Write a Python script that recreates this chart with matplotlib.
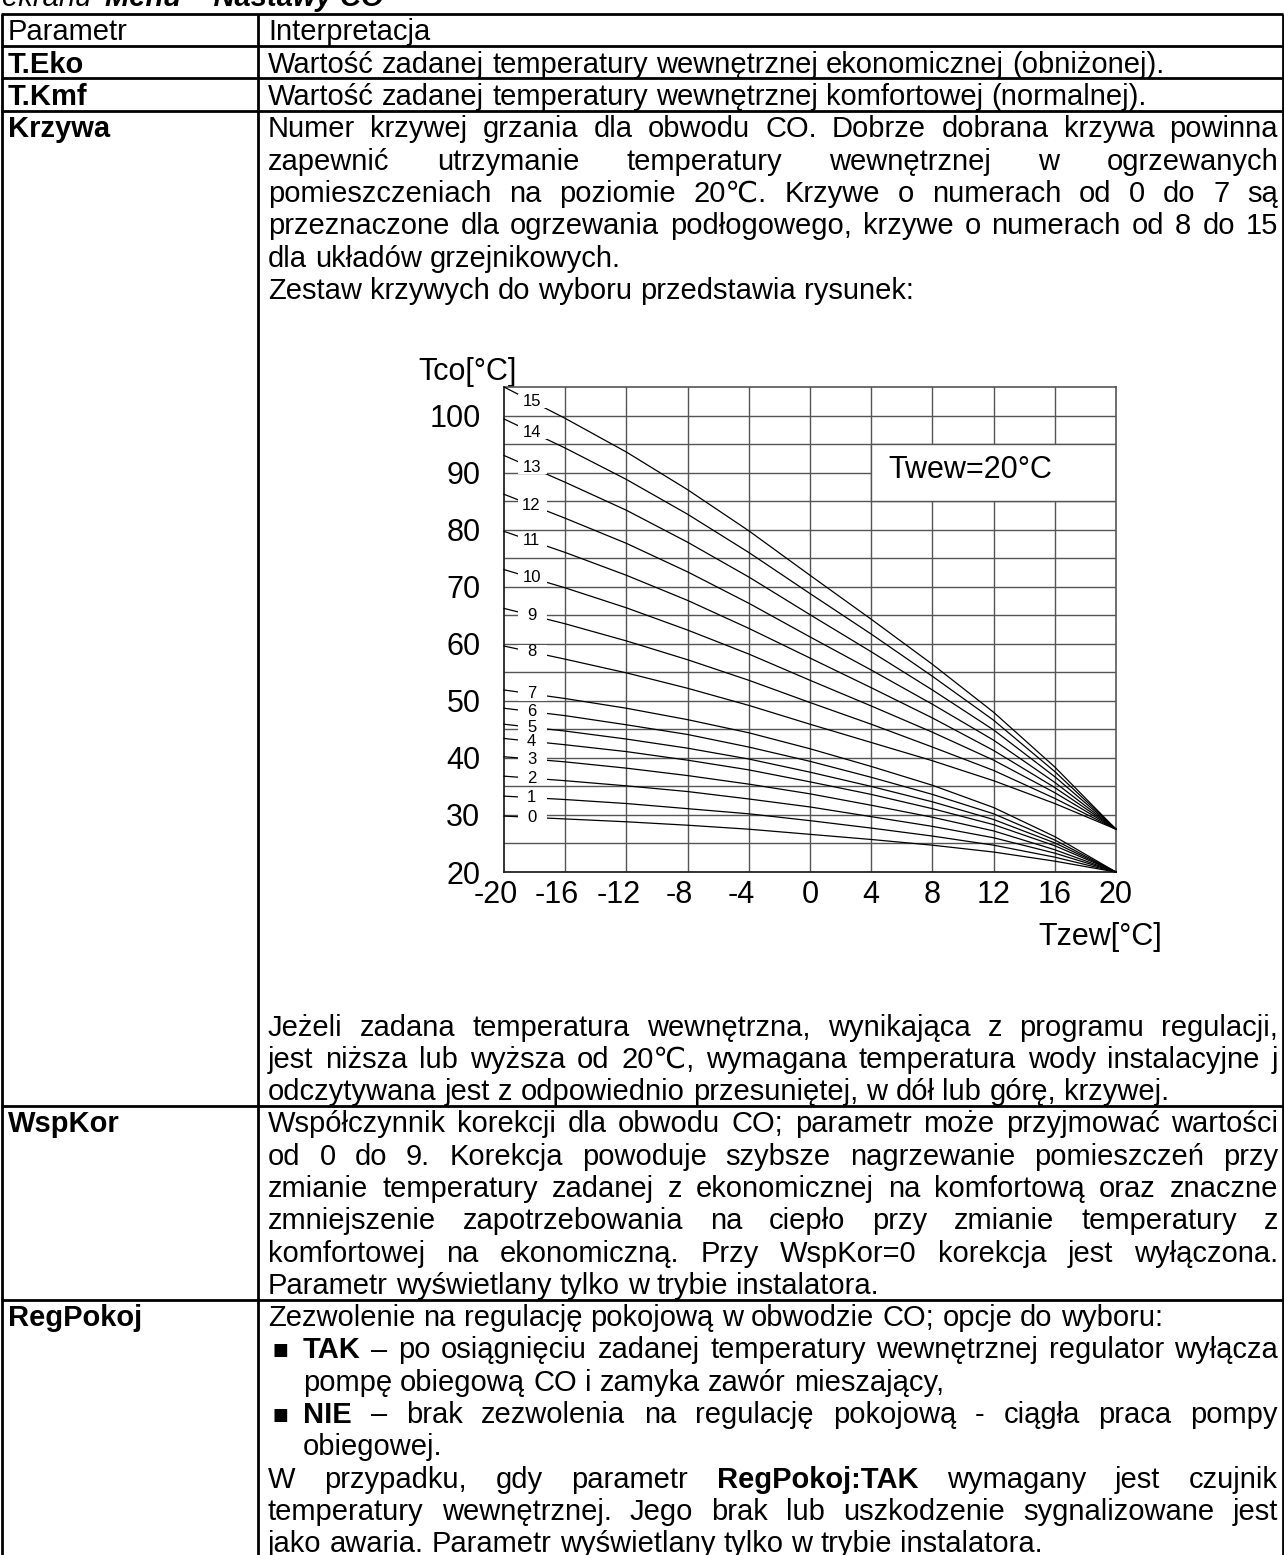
import numpy as np
import matplotlib
matplotlib.use("Agg")
import matplotlib.pyplot as plt
from matplotlib.patches import Rectangle
from matplotlib.transforms import ScaledTranslation

plt.rcParams["font.family"] = ["Liberation Sans", "DejaVu Sans"]

# ----------------------------------------------------------------------
# Data (Tzew -> Tco for curves 0..15)
# ----------------------------------------------------------------------
t_outside = [-20, -16, -12, -8, -4, 0, 4, 8, 12, 16, 20]

k0 = [29.8, 29.3, 28.8, 28.2, 27.5, 26.6, 25.7, 24.7, 23.5, 21.9, 20.0]
k1 = [33.3, 32.7, 32.0, 31.1, 30.2, 29.0, 27.7, 26.3, 24.7, 22.6, 20.0]
k2 = [36.8, 36.0, 35.1, 34.1, 32.8, 31.4, 29.7, 28.0, 26.0, 23.3, 20.0]
k3 = [40.2, 39.3, 38.2, 36.9, 35.4, 33.7, 31.7, 29.6, 27.2, 23.9, 20.0]
k4 = [43.4, 42.3, 41.1, 39.6, 37.9, 35.8, 33.6, 31.1, 28.3, 24.6, 20.0]
k5 = [45.9, 44.7, 43.3, 41.7, 39.8, 37.5, 35.0, 32.3, 29.2, 25.1, 20.0]
k6 = [48.7, 47.4, 45.8, 44.1, 41.9, 39.4, 36.6, 33.6, 30.2, 25.6, 20.0]
k7 = [51.9, 50.4, 48.7, 46.7, 44.4, 41.6, 38.5, 35.2, 31.3, 26.2, 20.0]
k8 = [59.6, 57.3, 54.9, 52.2, 49.2, 45.9, 42.7, 39.5, 36.0, 32.0, 27.5]
k9 = [66.2, 63.5, 60.5, 57.2, 53.6, 49.7, 45.9, 41.9, 37.8, 32.9, 27.5]
k10 = [73.0, 69.8, 66.3, 62.4, 58.2, 53.6, 49.1, 44.5, 39.6, 33.9, 27.5]
k11 = [79.7, 76.0, 72.0, 67.6, 62.7, 57.5, 52.3, 47.0, 41.3, 34.8, 27.5]
k12 = [86.2, 82.0, 77.6, 72.6, 67.1, 61.2, 55.4, 49.4, 43.1, 35.7, 27.5]
k13 = [93.0, 88.3, 83.4, 77.8, 71.7, 65.1, 58.6, 51.9, 44.9, 36.7, 27.5]
k14 = [99.4, 94.3, 88.8, 82.7, 76.0, 68.8, 61.7, 54.3, 46.6, 37.6, 27.5]
k15 = [105.0, 99.5, 93.6, 87.0, 79.8, 72.0, 64.3, 56.4, 48.0, 38.4, 27.5]

curves = [k0, k1, k2, k3, k4, k5, k6, k7, k8, k9, k10, k11, k12, k13, k14, k15]
curve_names = [str(i) for i in range(16)]

x_ticks = [-20, -16, -12, -8, -4, 0, 4, 8, 12, 16, 20]
y_ticks = [20, 30, 40, 50, 60, 70, 80, 90, 100]

# ----------------------------------------------------------------------
# Table text (one entry per printed line; "*" marks a bold word,
# J = justified, L = left aligned, B = bullet, I = indented)
# ----------------------------------------------------------------------
krzywa_lines = [
    ("J", "Numer krzywej grzania dla obwodu CO. Dobrze dobrana krzywa powinna"),
    ("J", "zapewnić utrzymanie temperatury wewnętrznej w ogrzewanych"),
    ("J", "pomieszczeniach na poziomie 20℃. Krzywe o numerach od 0 do 7 są"),
    ("J", "przeznaczone dla ogrzewania podłogowego, krzywe o numerach od 8 do 15"),
    ("L", "dla układów grzejnikowych."),
    ("L", "Zestaw krzywych do wyboru przedstawia rysunek:"),
]
jezeli_lines = [
    ("J", "Jeżeli zadana temperatura wewnętrzna, wynikająca z programu regulacji,"),
    ("J", "jest niższa lub wyższa od 20℃, wymagana temperatura wody instalacyjne j"),
    ("L", "odczytywana jest z odpowiednio przesuniętej, w dół lub górę, krzywej."),
]
wspkor_lines = [
    ("J", "Współczynnik korekcji dla obwodu CO; parametr może przyjmować wartości"),
    ("J", "od 0 do 9. Korekcja powoduje szybsze nagrzewanie pomieszczeń przy"),
    ("J", "zmianie temperatury zadanej z ekonomicznej na komfortową oraz znaczne"),
    ("J", "zmniejszenie zapotrzebowania na ciepło przy zmianie temperatury z"),
    ("J", "komfortowej na ekonomiczną. Przy WspKor=0 korekcja jest wyłączona."),
    ("L", "Parametr wyświetlany tylko w trybie instalatora."),
]
regpokoj_lines = [
    ("L", "Zezwolenie na regulację pokojową w obwodzie CO; opcje do wyboru:"),
    ("BJ", "*TAK – po osiągnięciu zadanej temperatury wewnętrznej regulator wyłącza"),
    ("IL", "pompę obiegową CO i zamyka zawór mieszający,"),
    ("BJ", "*NIE – brak zezwolenia na regulację pokojową - ciągła praca pompy"),
    ("IL", "obiegowej."),
    ("J", "W przypadku, gdy parametr *RegPokoj:TAK wymagany jest czujnik"),
    ("J", "temperatury wewnętrznej. Jego brak lub uszkodzenie sygnalizowane jest"),
    ("L", "jako awaria. Parametr wyświetlany tylko w trybie instalatora."),
]

# ----------------------------------------------------------------------
# Page layout (pixel units)
# ----------------------------------------------------------------------
W, H = 1284, 1555
FS = 21                      # body font size, pt
FS_PX = FS * 100 / 72
LINE = 32.3
Y_HDR = 30
Y_JEZ = 1025
COL_X = 258
X_LEFT = 8
X_TEXT = 268
X_INDENT = 303
X_RIGHT = 1278

fig = plt.figure(figsize=(W / 100, H / 100), dpi=100)
page = fig.add_axes([0, 0, 1, 1])
page.set_xlim(0, W)
page.set_ylim(H, 0)
page.axis("off")
renderer = fig.canvas.get_renderer()


def word_width(s, bold):
    t = page.text(0, 0, s, fontsize=FS, fontweight="bold" if bold else "normal")
    w = t.get_window_extent(renderer).width
    t.remove()
    return w


def baseline(yc):
    return yc + 0.36 * FS_PX


def put_line(yc, text, x0, justify):
    words = [(w.lstrip("*"), w.startswith("*")) for w in text.split()]
    widths = [word_width(w, b) for w, b in words]
    if justify and len(words) > 1:
        gap = (X_RIGHT - x0 - sum(widths)) / (len(words) - 1)
    else:
        gap = 0.278 * FS_PX
    x = x0
    for (w, b), wd in zip(words, widths):
        page.text(x, baseline(yc), w, fontsize=FS, va="baseline", ha="left",
                  fontweight="bold" if b else "normal", color="black")
        x += wd + gap


def put_block(y0, lines):
    for i, (mode, text) in enumerate(lines):
        yc = y0 + i * LINE
        x0 = X_TEXT
        if mode.startswith("B"):
            page.text(X_TEXT + 12, yc + 2, "■", fontsize=12, ha="center",
                      va="center", family=["DejaVu Sans"])
            x0 = X_INDENT
        elif mode.startswith("I"):
            x0 = X_INDENT
        put_line(yc, text, x0, mode.endswith("J"))


# heading, cut by the page edge
y_head = -5
page.text(2, baseline(y_head), "ekranu ", fontsize=FS, style="italic", va="baseline")
page.text(2 + word_width("ekranu ", False) + 6, baseline(y_head), "Menu – Nastawy CO",
          fontsize=FS, style="italic", fontweight="bold", va="baseline")

# left column + single line rows
rows = [("Parametr", False, "Interpretacja"),
        ("T.Eko", True, "Wartość zadanej temperatury wewnętrznej ekonomicznej (obniżonej)."),
        ("T.Kmf", True, "Wartość zadanej temperatury wewnętrznej komfortowej (normalnej)."),
        ]
for i, (name, bold, desc) in enumerate(rows):
    yc = Y_HDR + i * LINE
    page.text(X_LEFT, baseline(yc), name, fontsize=FS, va="baseline",
              fontweight="bold" if bold else "normal")
    put_line(yc, desc, X_TEXT, False)

y_krz = Y_HDR + 3 * LINE
page.text(X_LEFT, baseline(y_krz), "Krzywa", fontsize=FS, va="baseline", fontweight="bold")
put_block(y_krz, krzywa_lines)

put_block(Y_JEZ, jezeli_lines)
y_wsp = Y_JEZ + 3 * LINE
page.text(X_LEFT, baseline(y_wsp), "WspKor", fontsize=FS, va="baseline", fontweight="bold")
put_block(y_wsp, wspkor_lines)
y_reg = y_wsp + 6 * LINE
page.text(X_LEFT, baseline(y_reg), "RegPokoj", fontsize=FS, va="baseline", fontweight="bold")
put_block(y_reg, regpokoj_lines)

# table rules
lw = 2.0
borders = [Y_HDR - LINE / 2, Y_HDR + LINE / 2, Y_HDR + 1.5 * LINE,
           Y_HDR + 2.5 * LINE, y_wsp - LINE / 2, y_reg - LINE / 2]
for yb in borders:
    page.plot([1, W - 1], [yb, yb], color="black", lw=lw, solid_capstyle="butt")
for xb in [1.5, COL_X, W - 1.5]:
    page.plot([xb, xb], [borders[0], H], color="black", lw=lw, solid_capstyle="butt")

# ----------------------------------------------------------------------
# Heating curve chart
# ----------------------------------------------------------------------
ax = fig.add_axes([504 / W, (H - 872) / H, 612 / W, 485 / H])
ax.set_xlim(-20, 20)
ax.set_ylim(20, 105)

grid_kw = dict(color="#555555", lw=1.0, zorder=1)
for xv in range(-16, 20, 4):
    ax.axvline(xv, **grid_kw)
for yv in range(25, 105, 5):
    ax.axhline(yv, **grid_kw)
for side in ["top", "right"]:
    ax.spines[side].set_color("#555555")
    ax.spines[side].set_linewidth(1.2)
for side in ["left", "bottom"]:
    ax.spines[side].set_color("#222222")
    ax.spines[side].set_linewidth(1.3)

for vals in curves:
    ax.plot(t_outside, vals, color="black", lw=0.9, zorder=3,
            solid_joinstyle="round", clip_on=False)

# curve numbers sit in small white gaps near the left edge
label_x = -18.2
for name, vals in zip(curve_names, curves):
    ly = np.interp(label_x, t_outside, vals)
    ax.add_patch(Rectangle((-19.1, ly - 1.2), 1.9, 2.4, fc="white", ec="none", zorder=4))
    ax.text(label_x, ly, name, fontsize=12, ha="center", va="center", zorder=5)

# Twew box
ax.add_patch(Rectangle((4, 85), 16, 10, fc="white", ec="#555555", lw=1.0, zorder=2))
ax.plot([17.2, 20], [90, 90], **grid_kw)
ax.text(10.5, 90.4, "Twew=20°C", fontsize=22, ha="center", va="center", zorder=5)

ax.set_xticks(x_ticks)
ax.set_xticklabels([str(v) for v in x_ticks])
ax.set_yticks(y_ticks)
ax.set_yticklabels([str(v) for v in y_ticks])
ax.tick_params(length=0, labelsize=22)
ax.tick_params(axis="x", pad=6)
ax.tick_params(axis="y", pad=17)
for v, lab in zip(x_ticks, ax.get_xticklabels()):
    if v < 0:
        lab.set_transform(lab.get_transform() + ScaledTranslation(-0.08, 0, fig.dpi_scale_trans))

page.text(418, 372, "Tco[°C]", fontsize=22, ha="left", va="center")
page.text(1162, 937, "Tzew[°C]", fontsize=22, ha="right", va="center")

fig.savefig("out.png", dpi=100)
plt.close(fig)
